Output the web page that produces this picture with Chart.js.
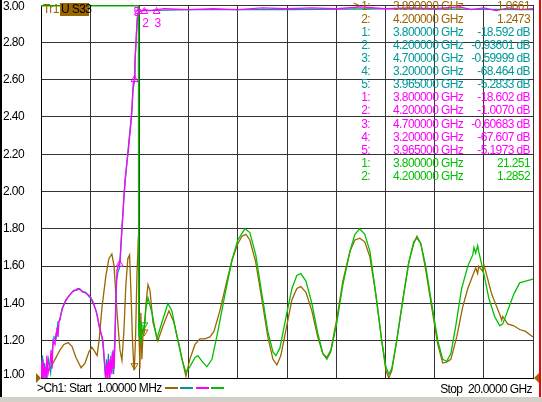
<!DOCTYPE html>
<html>
<head>
<meta charset="utf-8">
<script src="https://cdn.jsdelivr.net/npm/chart.js@4/dist/chart.umd.min.js"></script>
<style>
  body { margin: 0; background: #fff; }
  #wrap { position: relative; width: 542px; height: 402px; overflow: hidden; background: #fff; }
  #wrap canvas { position: absolute; left: 0; top: 0; }
  .txt {
    position: absolute;
    font: 12px "Liberation Sans", Arial, sans-serif;
    letter-spacing: -0.6px;
    line-height: 13px;
    white-space: pre;
  }
</style>
</head>
<body>
<div id="wrap">
  <canvas id="vnaCanvas" width="542" height="402"></canvas>
</div>
<script>
// trace colours
const BROWN = '#996600';
const TEAL = '#009999';
const MAGENTA = '#ff00ff';
const GREEN = '#00c000';

// Tr1 (brown) SWR, GHz / value
const brownFreq = [
  0.001, 0.16, 0.37, 0.57, 0.77, 0.93, 1.10, 1.26, 1.42, 1.63,
  1.79, 1.95, 2.07, 2.19, 2.28, 2.36, 2.48, 2.64, 2.76, 2.88,
  2.97, 3.09, 3.21, 3.29, 3.37, 3.45, 3.53, 3.60, 3.66, 3.72,
  3.78, 3.80, 3.84, 3.90, 3.96, 3.99, 4.02, 4.06, 4.10, 4.14,
  4.20, 4.27, 4.35, 4.43, 4.55, 4.75, 4.96, 5.20, 5.40, 5.61,
  5.77, 5.89, 6.05, 6.26, 6.46, 6.66, 6.87, 7.03, 7.27, 7.52,
  7.76, 8.00, 8.17, 8.33, 8.49, 8.73, 8.98, 9.22, 9.43, 9.59,
  9.75, 9.99, 10.20, 10.40, 10.56, 10.77, 11.01, 11.25, 11.46, 11.62,
  11.78, 12.03, 12.27, 12.56, 12.76, 12.96, 13.16, 13.37, 13.61, 13.85,
  14.02, 14.14, 14.26, 14.46, 14.71, 14.95, 15.15, 15.28, 15.44, 15.64,
  15.88, 16.13, 16.33, 16.49, 16.66, 16.90, 17.14, 17.35, 17.55, 17.67,
  17.75, 17.79, 17.96, 18.00, 18.12, 18.32, 18.53, 18.65, 18.73, 18.77,
  18.97, 19.22, 19.46, 19.70, 20.00
];
const brownSwr = [
  1.00, 1.02, 1.05, 1.10, 1.15, 1.18, 1.19, 1.17, 1.11, 1.055,
  1.08, 1.14, 1.165, 1.14, 1.12, 1.20, 1.38, 1.55, 1.64, 1.665,
  1.60, 1.35, 1.15, 1.095, 1.25, 1.50, 1.64, 1.66, 1.45, 1.20,
  1.04, 1.066, 1.20, 1.55, 1.76, 1.20, 1.05, 1.35, 1.10, 1.22,
  1.247, 1.40, 1.50, 1.47, 1.30, 1.20, 1.28, 1.36, 1.30, 1.18,
  1.08, 1.01, 1.10, 1.18, 1.21, 1.21, 1.22, 1.25, 1.36, 1.50,
  1.63, 1.72, 1.76, 1.77, 1.74, 1.62, 1.42, 1.22, 1.10, 1.07,
  1.12, 1.28, 1.42, 1.48, 1.49, 1.46, 1.36, 1.22, 1.13, 1.11,
  1.15, 1.32, 1.52, 1.68, 1.74, 1.75, 1.73, 1.65, 1.45, 1.20,
  1.04, 1.00, 1.04, 1.20, 1.42, 1.62, 1.72, 1.76, 1.72, 1.58,
  1.38, 1.18, 1.08, 1.085, 1.10, 1.22, 1.38, 1.48, 1.55, 1.59,
  1.56, 1.60, 1.57, 1.61, 1.55, 1.45, 1.38, 1.34, 1.31, 1.33,
  1.29, 1.28, 1.26, 1.25, 1.22
];

// green SWR trace (clipped at the top below the band edge)
const greenFreq = [
  0.001, 3.96, 3.97, 3.99, 4.02, 4.06, 4.10, 4.14, 4.20, 4.27,
  4.35, 4.51, 4.71, 4.92, 5.16, 5.32, 5.53, 5.73, 5.89, 6.05,
  6.26, 6.38, 6.54, 6.74, 6.95, 7.19, 7.48, 7.76, 8.00, 8.29,
  8.49, 8.73, 8.98, 9.22, 9.43, 9.55, 9.71, 9.95, 10.20, 10.40,
  10.56, 10.77, 11.01, 11.25, 11.46, 11.62, 11.78, 12.03, 12.27, 12.56,
  12.76, 12.96, 13.16, 13.37, 13.61, 13.85, 14.02, 14.14, 14.26, 14.46,
  14.71, 14.95, 15.15, 15.28, 15.44, 15.64, 15.88, 16.13, 16.33, 16.49,
  16.66, 16.86, 17.10, 17.35, 17.55, 17.60, 17.67, 17.75, 17.79, 18.00,
  18.20, 18.44, 18.65, 18.77, 18.97, 19.22, 19.46, 19.70, 20.00
];
const greenSwr = [
  2.995, 2.995, 1.26, 1.22, 1.30, 1.18, 1.27, 1.24, 1.285, 1.38,
  1.43, 1.35, 1.21, 1.30, 1.40, 1.36, 1.22, 1.10, 1.03, 1.06,
  1.11, 1.12, 1.09, 1.06, 1.10, 1.25, 1.45, 1.63, 1.74, 1.80,
  1.78, 1.66, 1.45, 1.25, 1.14, 1.12, 1.16, 1.32, 1.48, 1.55,
  1.56, 1.52, 1.40, 1.24, 1.13, 1.10, 1.14, 1.30, 1.50, 1.68,
  1.77, 1.80, 1.77, 1.68, 1.45, 1.20, 1.06, 1.02, 1.05, 1.20,
  1.42, 1.62, 1.73, 1.75, 1.72, 1.60, 1.40, 1.20, 1.10, 1.09,
  1.13, 1.28, 1.48, 1.60, 1.66, 1.70, 1.67, 1.71, 1.68, 1.56,
  1.43, 1.33, 1.28, 1.29, 1.36, 1.45, 1.51, 1.52, 1.53
];

// magenta log-mag trace
const magFreq = [
  0.001, 0.04, 0.08, 0.12, 0.16, 0.20, 0.24, 0.28, 0.37, 0.41,
  0.45, 0.49, 0.57, 0.61, 0.65, 0.69, 0.73, 0.81, 0.89, 1.02,
  1.14, 1.26, 1.38, 1.50, 1.63, 1.75, 1.87, 1.99, 2.11, 2.19,
  2.28, 2.36, 2.44, 2.52, 2.56, 2.60, 2.64, 2.68, 2.72, 2.76,
  2.80, 2.84, 2.88, 2.93, 2.97, 3.01, 3.05, 3.09, 3.17, 3.21,
  3.25, 3.33, 3.41, 3.49, 3.55, 3.62, 3.68, 3.72, 3.75, 3.80,
  3.82, 3.86, 3.91, 3.96, 4.00, 4.10, 4.23, 4.43, 5.00, 6.00,
  7.00, 8.00, 9.00, 10.00, 11.00, 12.00, 13.00, 14.00, 15.00, 16.00,
  17.00, 17.50, 18.00, 18.50, 19.00, 19.50, 20.00
];
const magVal = [
  1.08, 0.99, 1.10, 1.00, 1.06, 0.99, 1.12, 1.02, 1.08, 1.15,
  1.05, 1.20, 1.18, 1.24, 1.27, 1.22, 1.30, 1.34, 1.38, 1.42,
  1.44, 1.46, 1.47, 1.48, 1.47, 1.46, 1.45, 1.44, 1.41, 1.38,
  1.34, 1.28, 1.24, 1.20, 1.12, 1.05, 0.99, 1.08, 0.99, 1.10,
  1.00, 1.12, 1.02, 1.15, 1.05, 1.20, 1.45, 1.58, 1.61, 1.62,
  1.72, 1.88, 2.05, 2.15, 2.22, 2.32, 2.40, 2.50, 2.58, 2.60,
  2.70, 2.79, 2.93, 2.96, 2.975, 2.97, 2.975, 2.97, 2.98, 2.975,
  2.98, 2.975, 2.985, 2.98, 2.985, 2.98, 2.99, 2.98, 2.985, 2.98,
  2.99, 2.975, 2.985, 2.97, 2.985, 2.975, 2.98
];

// teal log-mag trace (mostly under the magenta one)
const tealFreq = [
  0.001, 0.06, 0.10, 0.14, 0.22, 0.30, 0.39, 0.47, 0.53, 0.61,
  0.69, 0.77, 0.85, 0.95, 1.08, 1.20, 1.32, 1.44, 1.57, 1.69,
  1.81, 1.93, 2.05, 2.15, 2.24, 2.32, 2.40, 2.48, 2.54, 2.58,
  2.62, 2.66, 2.70, 2.74, 2.78, 2.82, 2.86, 2.90, 2.95, 2.99,
  3.03, 3.07, 3.13, 3.19, 3.23, 3.29, 3.37, 3.45, 3.51, 3.58,
  3.65, 3.70, 3.74, 3.80, 3.83, 3.88, 3.93, 3.98, 4.20, 6.00,
  10.00, 14.00, 20.00
];
const tealVal = [
  1.05, 1.12, 0.99, 1.08, 1.00, 1.10, 1.03, 1.16, 1.22, 1.21,
  1.30, 1.31, 1.37, 1.40, 1.43, 1.45, 1.47, 1.47, 1.48, 1.46,
  1.46, 1.44, 1.42, 1.39, 1.36, 1.31, 1.26, 1.22, 1.15, 1.08,
  1.00, 1.10, 1.02, 1.13, 1.00, 1.09, 1.04, 1.14, 1.02, 1.17,
  1.35, 1.52, 1.57, 1.59, 1.66, 1.80, 1.97, 2.10, 2.18, 2.28,
  2.37, 2.45, 2.55, 2.59, 2.72, 2.85, 2.94, 2.97, 2.97, 2.975,
  2.975, 2.98, 2.975
];

// markers
const magMarkFreq = [3.8, 4.2, 4.7, 3.2, 3.965];
const magMarkVal = [2.60, 2.965, 2.965, 1.61, 2.965];
const magMarkShown = ['', '2', '3', '', '5'];
const brownMarkFreq = [3.8, 4.2];
const brownMarkVal = [1.0661, 1.2473];
const greenMarkFreq = [4.2];
const greenMarkVal = [1.2852];

// marker readout table
const tableColor = [BROWN, BROWN, TEAL, TEAL, TEAL, TEAL, TEAL, MAGENTA, MAGENTA, MAGENTA, MAGENTA, MAGENTA, GREEN, GREEN];
const tableIdx = ['1:', '2:', '1:', '2:', '3:', '4:', '5:', '1:', '2:', '3:', '4:', '5:', '1:', '2:'];
const tableFreq = ['3.800000', '4.200000', '3.800000', '4.200000', '4.700000', '3.200000', '3.965000',
  '3.800000', '4.200000', '4.700000', '3.200000', '3.965000', '3.800000', '4.200000'];
const tableVal = ['1.0661', '1.2473', '-18.592 dB', '-0.93601 dB', '-0.59999 dB', '-68.464 dB', '-5.2833 dB',
  '-18.602 dB', '-1.0070 dB', '-0.60683 dB', '-67.607 dB', '-5.1973 dB', '21.251', '1.2852'];

const xTicks = { min: 0, max: 20, step: 2 };
const yTicks = { min: 1, max: 3, step: 0.2 };

const toPoints = (xs, ys) => xs.map((x, i) => ({ x, y: ys[i] }));

const traceSet = (label, xs, ys, color, order) => ({
  label,
  data: toPoints(xs, ys),
  borderColor: color,
  backgroundColor: color,
  borderWidth: 1.3,
  pointRadius: 0,
  tension: 0,
  order,
});

const markerSet = (label, xs, ys, color, rotation) => ({
  label,
  data: toPoints(xs, ys),
  showLine: false,
  pointStyle: 'triangle',
  pointRadius: 4,
  pointRotation: rotation,
  pointBorderWidth: 1,
  borderColor: color,
  backgroundColor: 'rgba(0,0,0,0)',
  order: -1,
});

/**
 * frame bits of the analyzer screen: tick labels, reference arrows,
 * marker numbers and the window edges
 */
const vnaFrame = {
  id: 'vnaFrame',
  afterDraw(chart) {
    const { ctx, scales: { x, y }, chartArea } = chart;
    ctx.save();
    ctx.font = '12px "Liberation Sans", Arial, sans-serif';
    if ('letterSpacing' in ctx) ctx.letterSpacing = '-0.6px';
    ctx.textBaseline = 'middle';

    // y tick labels, kept inside the window at both ends
    ctx.fillStyle = '#000';
    ctx.textAlign = 'left';
    y.ticks.forEach(({ value }) => {
      const py = Math.min(Math.max(y.getPixelForValue(value), 7), 374.5);
      ctx.fillText(value.toFixed(2), 3, py);
    });

    // reference level arrows
    const ry = y.getPixelForValue(yTicks.min);
    ctx.fillStyle = BROWN;
    ctx.beginPath();
    ctx.moveTo(chartArea.left - 5, ry - 5);
    ctx.lineTo(chartArea.left, ry);
    ctx.lineTo(chartArea.left - 5, ry + 5);
    ctx.fill();
    ctx.beginPath();
    ctx.moveTo(chartArea.right + 6, ry - 5);
    ctx.lineTo(chartArea.right + 1, ry);
    ctx.lineTo(chartArea.right + 6, ry + 5);
    ctx.fill();

    // marker numbers
    ctx.fillStyle = MAGENTA;
    magMarkFreq.forEach((f, i) => {
      const text = magMarkShown[i];
      if (!text) return;
      const px = x.getPixelForValue(f);
      const py = y.getPixelForValue(magMarkVal[i]);
      if (text === '5') {
        ctx.textAlign = 'right';
        ctx.fillText(text, px + 1, py + 1);
      } else {
        ctx.textAlign = 'center';
        ctx.fillText(text, px + 1, py + 12);
      }
    });

    // window edges
    ctx.fillStyle = '#000';
    ctx.fillRect(0, 0, 2, 397);
    ctx.fillStyle = '#ff0000';
    ctx.fillRect(539, 0, 2, 397);
    ctx.fillStyle = '#d4d0c8';
    ctx.fillRect(0, 397, 542, 5);
    ctx.restore();
  },
};

const ctx = document.getElementById('vnaCanvas').getContext('2d');

window.vnaChart = new Chart(ctx, {
  type: 'line',
  data: {
    datasets: [
      traceSet('Tr1 S33', brownFreq, brownSwr, BROWN, 3),
      traceSet('Tr2', tealFreq, tealVal, TEAL, 2),
      traceSet('Tr3', magFreq, magVal, MAGENTA, 1),
      traceSet('Tr4', greenFreq, greenSwr, GREEN, 0),
      markerSet('Tr3 markers', magMarkFreq, magMarkVal, MAGENTA, 0),
      markerSet('Tr1 markers', brownMarkFreq, brownMarkVal, BROWN, 180),
      markerSet('Tr4 markers', greenMarkFreq, greenMarkVal, GREEN, 180),
    ],
  },
  options: {
    responsive: false,
    animation: false,
    devicePixelRatio: 1,
    layout: { padding: { left: 41, top: 0, right: 9, bottom: 24 } },
    plugins: {
      legend: { display: false },
      tooltip: { enabled: false },
    },
    scales: {
      x: {
        type: 'linear',
        min: xTicks.min,
        max: xTicks.max,
        ticks: { display: false, stepSize: xTicks.step },
        grid: { color: '#333333', drawTicks: false },
        border: { color: '#000000' },
        afterFit(scale) { scale.height = 0; },
      },
      y: {
        min: yTicks.min,
        max: yTicks.max,
        ticks: { display: false, stepSize: yTicks.step },
        grid: { color: '#333333', drawTicks: false },
        border: { color: '#000000' },
        afterFit(scale) { scale.width = 0; },
      },
    },
  },
  plugins: [vnaFrame],
});

// text parts of the screen
const wrap = document.getElementById('wrap');
const addText = (text, style) => {
  const el = document.createElement('div');
  el.className = 'txt';
  el.textContent = text;
  Object.assign(el.style, style);
  wrap.appendChild(el);
  return el;
};

tableIdx.forEach((idx, i) => {
  const top = `${i * 13.06}px`;
  const color = tableColor[i];
  if (i === 0) addText('>', { left: '353px', top, color });
  addText(idx, { left: '330px', width: '40px', textAlign: 'right', top, color });
  addText(`${tableFreq[i]} GHz`, { left: '393px', top, color });
  addText(tableVal[i], { left: '440px', width: '90px', textAlign: 'right', top, color });
});

addText('Tr1', { left: '43px', top: '3px', color: BROWN });
addText('U S33', { left: '60px', top: '3px', width: '29px', height: '13px', background: BROWN, color: '#000', paddingLeft: '1px', boxSizing: 'border-box' });
addText('>Ch1: Start  1.00000 MHz', { left: '37px', top: '382px', color: '#000' });
addText('Stop  20.0000 GHz', { left: '400px', width: '132px', textAlign: 'right', top: '383px', color: '#000' });

[BROWN, TEAL, MAGENTA, GREEN].forEach((color, i) => {
  const el = document.createElement('div');
  Object.assign(el.style, {
    position: 'absolute', left: `${165 + i * 15.3}px`, top: '387px',
    width: '13px', height: '2px', background: color,
  });
  wrap.appendChild(el);
});
</script>
</body>
</html>
